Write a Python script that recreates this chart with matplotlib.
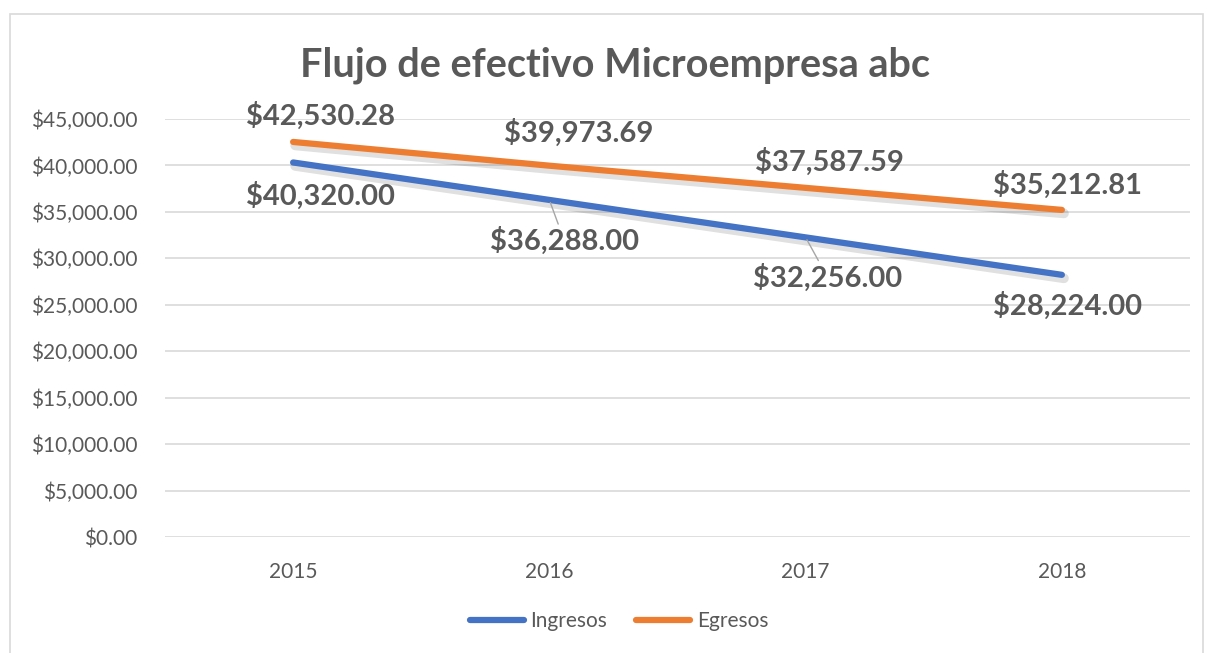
import matplotlib.pyplot as plt
import matplotlib.patheffects as pe
from matplotlib.patches import Rectangle
from matplotlib.ticker import FuncFormatter, MultipleLocator

plt.rcParams['font.family'] = ['Lato', 'DejaVu Sans']

# data
years = ['2015', '2016', '2017', '2018']
ingresos = [40320.00, 36288.00, 32256.00, 28224.00]
egresos = [42530.28, 39973.69, 37587.59, 35212.81]

# label offsets in pixels (dx, dy) from each point
ing_offsets = [(27, -33), (15, -41), (22, -40), (6, -31)]
egr_offsets = [(27, 26), (29, 33), (24, 26), (6, 25)]
ing_leader = [False, True, True, False]

blue = '#4472C4'
orange = '#ED7D31'
gray = '#595959'

W, H = 1208, 653
fig = plt.figure(figsize=(W / 100, H / 100), dpi=100)
ax = fig.add_axes([165 / W, 1 - 537 / H, (1190 - 165) / W, (537 - 119) / H])

# chart border
fig.patches.append(Rectangle((10 / W, -0.05), (1203 - 10) / W, 1.05 - 14 / H,
                             transform=fig.transFigure, fill=False,
                             edgecolor='#D9D9D9', lw=1.2))

x = range(len(years))
shadow = [pe.SimpleLineShadow(offset=(1.5, -2.5), shadow_color='#000000', alpha=0.12,
                              linewidth=7), pe.Normal()]
l1, = ax.plot(x, ingresos, color=blue, lw=4.5, solid_capstyle='round', label='Ingresos',
              path_effects=shadow)
l2, = ax.plot(x, egresos, color=orange, lw=4.5, solid_capstyle='round', label='Egresos',
              path_effects=shadow)

money = lambda v: '${:,.2f}'.format(v)

for i, v in enumerate(ingresos):
    dx, dy = ing_offsets[i]
    ap = None
    if ing_leader[i]:
        ap = dict(arrowstyle='-', color='#A6A6A6', lw=1, shrinkA=0, shrinkB=2)
    ax.annotate(money(v), (i, v), xytext=(dx, dy), textcoords='offset pixels',
                ha='center', va='center', fontsize=21, fontweight='bold',
                color=gray, arrowprops=ap)
for i, v in enumerate(egresos):
    dx, dy = egr_offsets[i]
    ax.annotate(money(v), (i, v), xytext=(dx, dy), textcoords='offset pixels',
                ha='center', va='center', fontsize=21, fontweight='bold', color=gray)

ax.set_xlim(-0.5, len(years) - 0.5)
ax.set_ylim(0, 45000)
ax.yaxis.set_major_locator(MultipleLocator(5000))
ax.yaxis.set_major_formatter(FuncFormatter(lambda v, p: money(v)))
ax.set_xticks(list(x))
ax.set_xticklabels(years)
ax.grid(axis='y', color='#D9D9D9', lw=1.2)
ax.set_axisbelow(True)
for s in ax.spines.values():
    s.set_visible(False)
ax.tick_params(length=0, labelsize=15, colors=gray)
ax.tick_params(axis='y', pad=20)
ax.tick_params(axis='x', pad=18)

fig.text(615 / W, 1 - 65 / H, 'Flujo de efectivo Microempresa abc', ha='center',
         va='center', fontsize=28.5, fontweight='bold', color=gray)

from matplotlib.lines import Line2D
h1 = Line2D([], [], color=blue, lw=4.5, solid_capstyle='round')
h2 = Line2D([], [], color=orange, lw=4.5, solid_capstyle='round')
fig.legend([h1, h2], ['Ingresos', 'Egresos'], loc='center',
           bbox_to_anchor=(619 / W, 1 - 621 / H), ncol=2, frameon=False,
           fontsize=15, labelcolor=gray, handlelength=2.6, handletextpad=0.3,
           columnspacing=1.4)

fig.savefig('out.png', dpi=100)
